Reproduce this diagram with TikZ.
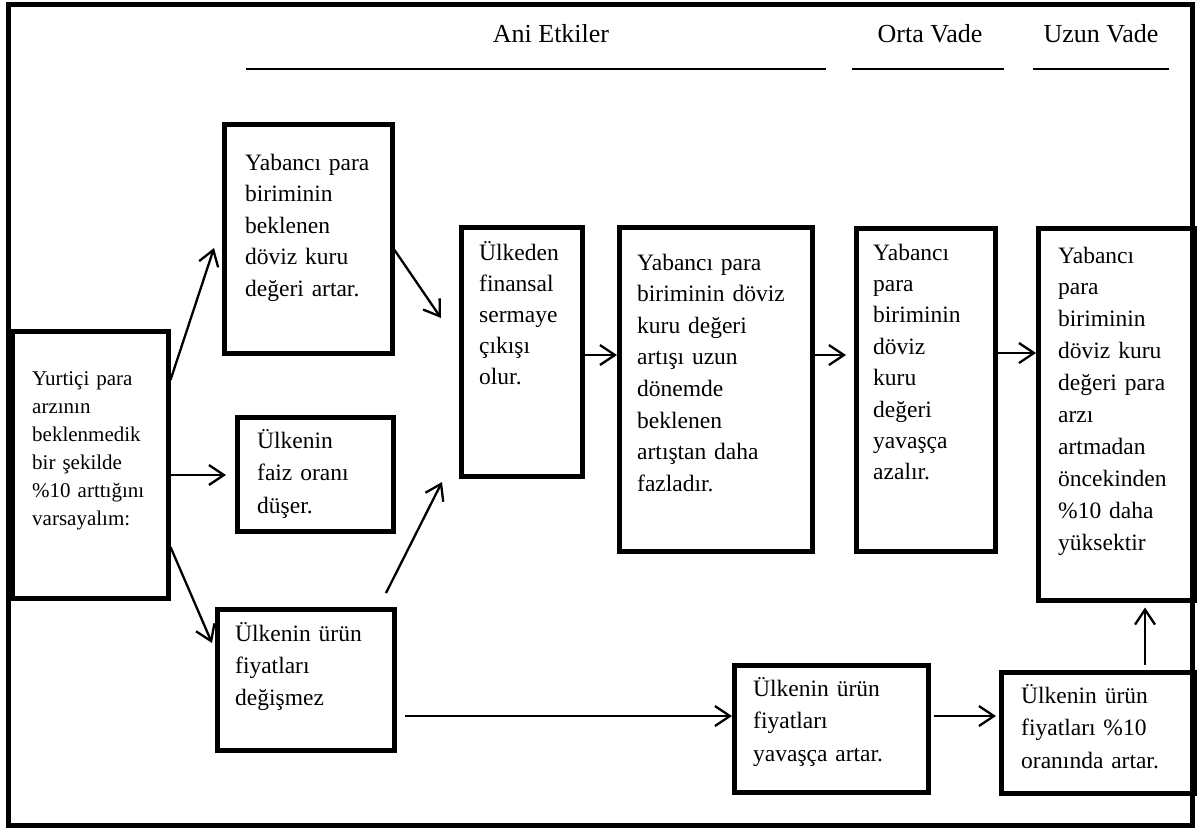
\documentclass[tikz,border=0pt]{standalone}
\usepackage{fontspec}
\setmainfont{Liberation Serif}
\usetikzlibrary{arrows.meta}
\begin{document}
\begin{tikzpicture}[x=1pt,y=-1pt,
  frame/.style={draw, line width=5pt},
  box/.style={draw, line width=4.5pt, rectangle, inner sep=0pt, anchor=north west},
  txt/.style={anchor=base west, inner sep=0pt, text width=#1, align=left,
    font=\fontsize{23.5}{31.5}\selectfont},
  hdr/.style={anchor=base, inner sep=0pt, font=\fontsize{26}{30}\selectfont},
  rule/.style={line width=2pt},
  arr/.style={-{Straight Barb[length=15pt,width=20pt]}, line width=2.3pt}
]
\useasboundingbox (0,0) rectangle (1202,828);
\fill[white] (0,0) rectangle (1202,828);

% outer frame
\draw[frame] (8.5,4) rectangle (1192.5,825.5);

% headers
\node[hdr] (ani) at (551,42) {Ani Etkiler};
\node[hdr] (orta) at (930,42) {Orta Vade};
\node[hdr] (uzun) at (1101,42) {Uzun Vade};
\draw[rule] (246,69) -- (826,69);
\draw[rule] (852,69) -- (1004,69);
\draw[rule] (1033,69) -- (1169,69);

% boxes
\node[box, minimum width=156pt, minimum height=267pt] (Y) at (10,329) {};
\node[box, minimum width=168pt, minimum height=229pt] (A) at (222,122) {};
\node[box, minimum width=156pt, minimum height=114pt] (B) at (235,415) {};
\node[box, minimum width=177pt, minimum height=141pt] (C) at (215,607) {};
\node[box, minimum width=121pt, minimum height=249pt] (D) at (459,225) {};
\node[box, minimum width=193pt, minimum height=324pt] (E) at (617,225) {};
\node[box, minimum width=139pt, minimum height=323pt] (F) at (854,226) {};
\node[box, minimum width=156pt, minimum height=372pt] (G) at (1036,226) {};
\node[box, minimum width=194pt, minimum height=127pt] (H) at (732,663) {};
\node[box, minimum width=193pt, minimum height=121pt] (I) at (999,670) {};

% texts
\node[txt=130pt, font=\fontsize{21}{28}\selectfont] (Yt) at (32,385)
  {Yurtiçi para\\arzının\\beklenmedik\\bir şekilde\\\%10 arttığını\\varsayalım:};
\node[txt=140pt] (At) at (245,170)
  {Yabancı para\\biriminin\\beklenen\\döviz kuru\\değeri artar.};
\node[txt=130pt, font=\fontsize{23.5}{32.5}\selectfont] (Bt) at (257,448)
  {Ülkenin\\faiz oranı\\düşer.};
\node[txt=150pt, font=\fontsize{23.5}{32}\selectfont] (Ct) at (235,641)
  {Ülkenin ürün\\fiyatları\\değişmez};
\node[txt=100pt, font=\fontsize{23.5}{31.2}\selectfont] (Dt) at (479,260)
  {Ülkeden\\finansal\\sermaye\\çıkışı\\olur.};
\node[txt=170pt, font=\fontsize{23.5}{31.6}\selectfont] (Et) at (637,270)
  {Yabancı para\\biriminin döviz\\kuru değeri\\artışı uzun\\dönemde\\beklenen\\artıştan daha\\fazladır.};
\node[txt=115pt, font=\fontsize{23.5}{31.4}\selectfont] (Ft) at (873,260)
  {Yabancı\\para\\biriminin\\döviz\\kuru\\değeri\\yavaşça\\azalır.};
\node[txt=130pt, font=\fontsize{23.5}{31.9}\selectfont] (Gt) at (1058,263)
  {Yabancı\\para\\biriminin\\döviz kuru\\değeri para\\arzı\\artmadan\\öncekinden\\\%10 daha\\yüksektir};
\node[txt=170pt, font=\fontsize{23.5}{32.5}\selectfont] (Ht) at (753,696)
  {Ülkenin ürün\\fiyatları\\yavaşça artar.};
\node[txt=170pt, font=\fontsize{23.5}{32.5}\selectfont] (It) at (1021,703)
  {Ülkenin ürün\\fiyatları \%10\\oranında artar.};

% free ends of connectors
\coordinate (tA) at (214,248);
\coordinate (tB) at (226,475);
\coordinate (tC) at (212,643);
\coordinate (tD1) at (441,318);
\coordinate (sCD) at (386,593);
\coordinate (tD2) at (442,482);
\coordinate (tF) at (846,355);
\coordinate (sCH) at (405,716);

% connectors
\draw[arr] (Y.east |- 0,380) -- (tA);
\draw[arr] (Y.east |- 0,475) -- (tB);
\draw[arr] (Y.east |- 0,547) -- (tC);
\draw[arr] (A.east |- 0,250) -- (tD1);
\draw[arr] (sCD) -- (tD2);
\draw[arr] (D.east |- 0,355) -- (E.west |- 0,355);
\draw[arr] (E.east |- 0,355) -- (tF);
\draw[arr] (F.east |- 0,353) -- (G.west |- 0,353);
\draw[arr] (sCH) -- (H.west |- 0,716);
\draw[arr, shorten <=3pt, shorten >=3pt] (H.east |- 0,716) -- (I.west |- 0,716);
\draw[arr, shorten <=5pt, shorten >=5pt] (I.north -| 1145,0) -- (G.south -| 1145,0);
\end{tikzpicture}
\end{document}
